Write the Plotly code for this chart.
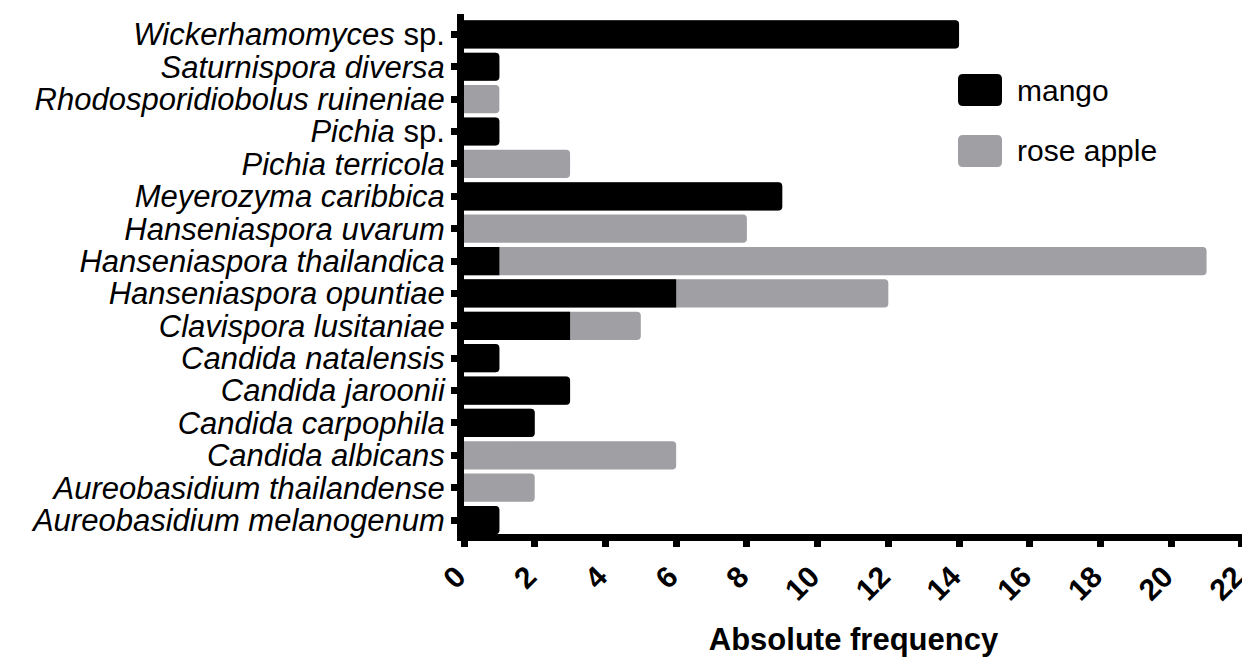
import plotly.graph_objects as go

# Species, listed bottom to top as they appear on the y axis
species = [
    "Aureobasidium melanogenum",
    "Aureobasidium thailandense",
    "Candida albicans",
    "Candida carpophila",
    "Candida jaroonii",
    "Candida natalensis",
    "Clavispora lusitaniae",
    "Hanseniaspora opuntiae",
    "Hanseniaspora thailandica",
    "Hanseniaspora uvarum",
    "Meyerozyma caribbica",
    "Pichia terricola",
    "Pichia sp.",
    "Rhodosporidiobolus ruineniae",
    "Saturnispora diversa",
    "Wickerhamomyces sp.",
]
mango = [1, 0, 0, 2, 3, 1, 3, 6, 1, 0, 9, 0, 1, 0, 1, 14]
rose_apple = [0, 2, 6, 0, 0, 0, 2, 6, 20, 8, 0, 3, 0, 1, 0, 0]
x_ticks = list(range(0, 23, 2))
series_names = ["mango", "rose apple"]
axis_title = "Absolute frequency"

BLACK = "#000000"
GRAY = "#A09FA4"
FONT = "Liberation Sans, Arial, sans-serif"


def label(name):
    if name.endswith(" sp."):
        return "<i>" + name[:-4] + "</i> sp."
    return "<i>" + name + "</i>"


tick_text = [label(s) for s in species]
rose_total = [m + r for m, r in zip(mango, rose_apple)]

fig = go.Figure()
# rose apple segment drawn from 0 to the stacked total, mango overlaid on top
fig.add_trace(go.Bar(
    y=species, x=rose_total, orientation="h", name=series_names[1],
    marker=dict(color=GRAY, line=dict(width=0)),
    customdata=rose_apple,
    hovertemplate="%{y}<br>rose apple: %{customdata}<extra></extra>",
    showlegend=False,
))
fig.add_trace(go.Bar(
    y=species, x=mango, orientation="h", name=series_names[0],
    marker=dict(color=BLACK, line=dict(width=0)),
    hovertemplate="%{y}<br>mango: %{x}<extra></extra>",
    showlegend=False,
))

# page body has an 8px margin; geometry below is in page pixels
OFF = 8
W, H = 1250 - OFF, 657 - OFF
L, R, T, B = 464 - OFF, 1243 - OFF, 14 - OFF, 534 - OFF
PW, PH = R - L, B - T


def px(x):
    return (x - OFF - L) / PW


def py(y):
    return (B - (y - OFF)) / PH


def rrect(x0, y0, x1, y1, r=5):
    rx, ry = r / PW, r / PH
    a, b, c, d = px(x0), py(y1), px(x1), py(y0)
    return (f"M {a+rx},{b} L {c-rx},{b} Q {c},{b} {c},{b+ry} "
            f"L {c},{d-ry} Q {c},{d} {c-rx},{d} L {a+rx},{d} "
            f"Q {a},{d} {a},{d-ry} L {a},{b+ry} Q {a},{b} {a+rx},{b} Z")


shapes = [
    dict(type="path", xref="paper", yref="paper", path=rrect(958, 74, 1002, 106),
         fillcolor=BLACK, line=dict(width=0)),
    dict(type="path", xref="paper", yref="paper", path=rrect(958, 135, 1002, 167),
         fillcolor=GRAY, line=dict(width=0)),
]
annotations = [
    dict(text=series_names[0], xref="paper", yref="paper", x=px(1015), y=py(90),
         xanchor="left", yanchor="middle", showarrow=False,
         font=dict(family=FONT, size=30, color="black")),
    dict(text=series_names[1], xref="paper", yref="paper", x=px(1015), y=py(151),
         xanchor="left", yanchor="middle", showarrow=False,
         font=dict(family=FONT, size=30, color="black")),
]

fig.update_layout(
    width=W, height=H,
    margin=dict(l=L, r=W - R, t=T, b=H - B, pad=0),
    paper_bgcolor="white", plot_bgcolor="white",
    barmode="overlay", bargap=0.13, barcornerradius=4,
    font=dict(family=FONT, color="black"),
    shapes=shapes, annotations=annotations,
    showlegend=False,
)
fig.update_xaxes(
    range=[0, 22.03], tickvals=x_ticks, ticktext=[str(v) for v in x_ticks],
    tickangle=-45, tickfont=dict(family=FONT, size=30, color="black", weight="bold"),
    ticklabeloverflow="allow", ticklabelshift=-7,
    showline=True, linewidth=7, linecolor="black",
    ticks="outside", ticklen=6, tickwidth=7, tickcolor="black",
    showgrid=False, zeroline=False, automargin=False,
    title=dict(text="<b>" + axis_title + "</b>", standoff=26,
               font=dict(family=FONT, size=31, color="black")),
)
fig.update_yaxes(
    type="category", categoryorder="array", categoryarray=species,
    tickvals=species, ticktext=tick_text, range=[-0.43, 15.63],
    tickfont=dict(family=FONT, size=31, color="black"),
    showline=True, linewidth=7, linecolor="black",
    ticks="outside", ticklen=6, tickwidth=7, tickcolor="black",
    showgrid=False, zeroline=False, automargin=False,
)

fig.write_html("out.html")
